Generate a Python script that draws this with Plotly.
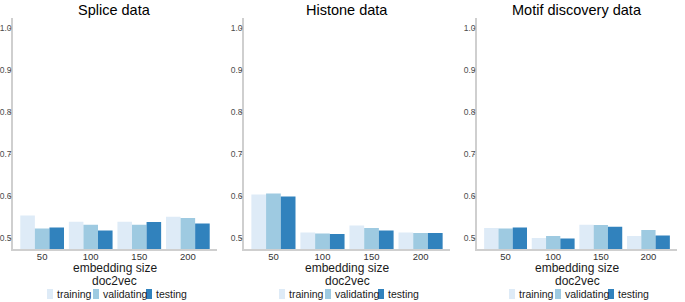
import plotly.graph_objects as go

categories = ["50", "100", "150", "200"]
series_names = ["training", "validating", "testing"]
colors = ["#deebf7", "#9ecae1", "#3182bd"]
panel_titles = ["Splice data", "Histone data", "Motif discovery data"]
x_title_lines = ["embedding size", "doc2vec"]

splice_training = [0.555, 0.540, 0.540, 0.552]
splice_validating = [0.524, 0.533, 0.533, 0.549]
splice_testing = [0.526, 0.519, 0.539, 0.536]

histone_training = [0.605, 0.514, 0.531, 0.514]
histone_validating = [0.607, 0.512, 0.525, 0.513]
histone_testing = [0.600, 0.511, 0.519, 0.513]

motif_training = [0.525, 0.501, 0.533, 0.506]
motif_validating = [0.524, 0.506, 0.532, 0.520]
motif_testing = [0.526, 0.500, 0.528, 0.507]

y_ticks = [0.5, 0.6, 0.7, 0.8, 0.9, 1.0]
y_tick_labels = ["0.5", "0.6", "0.7", "0.8", "0.9", "1.0"]

panels = [
    [splice_training, splice_validating, splice_testing],
    [histone_training, histone_validating, histone_testing],
    [motif_training, motif_validating, motif_testing],
]

FONT = "Liberation Sans, Arial, sans-serif"
W, H = 685, 302
x_px = [(13, 217), (244, 450), (477, 677)]
x_domains = [(a / W, b / W) for a, b in x_px]
y_domain = ((H - 249) / H, (H - 18) / H)

fig = go.Figure()
for p, series in enumerate(panels):
    ax = "" if p == 0 else str(p + 1)
    for s, vals in enumerate(series):
        fig.add_trace(go.Bar(
            x=categories, y=vals, name=series_names[s],
            marker=dict(color=colors[s], line=dict(width=0)),
            xaxis="x" + ax, yaxis="y" + ax,
            showlegend=False, hoverinfo="x+y+name",
        ))

shapes = []
annotations = []
layout = dict(
    width=W, height=H,
    margin=dict(l=0, r=0, t=0, b=0, autoexpand=False),
    paper_bgcolor="white", plot_bgcolor="white",
    barmode="group", bargap=0.1, bargroupgap=0.0,
    font=dict(family=FONT, color="#1a1a1a"),
    showlegend=False,
)

key_w, key_h = 6, 10
legend_y = 294
text_widths = [36, 43, 31]
gap_after_key = 2
gap_between = 2
total = sum(key_w + gap_after_key + tw + gap_between for tw in text_widths) - gap_between

for p in range(3):
    ax = "" if p == 0 else str(p + 1)
    layout["xaxis" + ax] = dict(
        domain=list(x_domains[p]), anchor="y" + ax,
        type="category", range=[-0.6, 3.6], automargin=False,
        showline=True, linecolor="#cfcfcf", linewidth=1.5,
        showgrid=False, ticks="", ticklabelstandoff=-2,
        tickfont=dict(family=FONT, size=9.5, color="#333333"),
        fixedrange=True,
    )
    layout["yaxis" + ax] = dict(
        domain=list(y_domain), anchor="x" + ax,
        range=[0.475, 1.025], tickvals=y_ticks, ticktext=y_tick_labels,
        automargin=False,
        showline=True, linecolor="#cfcfcf", linewidth=1.5,
        showgrid=False, ticks="outside", ticklen=2, tickcolor="#999999",
        ticklabelstandoff=-4,
        tickfont=dict(family=FONT, size=8.5, color="#4d4d4d"),
        zeroline=False, fixedrange=True,
    )
    cx_px = (x_px[p][0] + x_px[p][1]) / 2
    cx = cx_px / W
    annotations.append(dict(
        text=panel_titles[p], x=cx, y=1 - 10 / H, xref="paper", yref="paper",
        xanchor="center", yanchor="middle", showarrow=False,
        font=dict(family=FONT, size=14.5, color="#000000"),
    ))
    for i, line in enumerate(x_title_lines):
        annotations.append(dict(
            text=line, x=cx, y=1 - (268 + 12.5 * i) / H, xref="paper", yref="paper",
            xanchor="center", yanchor="middle", showarrow=False,
            font=dict(family=FONT, size=12, color="#1a1a1a"),
        ))
    x0 = cx_px - total / 2 + 1
    for s, name in enumerate(series_names):
        shapes.append(dict(
            type="rect", xref="paper", yref="paper",
            x0=x0 / W, x1=(x0 + key_w) / W,
            y0=1 - (legend_y + key_h / 2) / H, y1=1 - (legend_y - key_h / 2) / H,
            fillcolor=colors[s], line=dict(width=0),
        ))
        annotations.append(dict(
            text=name, x=(x0 + key_w + gap_after_key) / W, y=1 - legend_y / H,
            xref="paper", yref="paper", xanchor="left", yanchor="middle",
            showarrow=False, font=dict(family=FONT, size=10.5, color="#1a1a1a"),
        ))
        x0 += key_w + gap_after_key + text_widths[s] + gap_between

layout["shapes"] = shapes
layout["annotations"] = annotations
fig.update_layout(**layout)
fig.write_html("out.html", config={"displayModeBar": False},
               post_script="document.body.style.margin='0';")
